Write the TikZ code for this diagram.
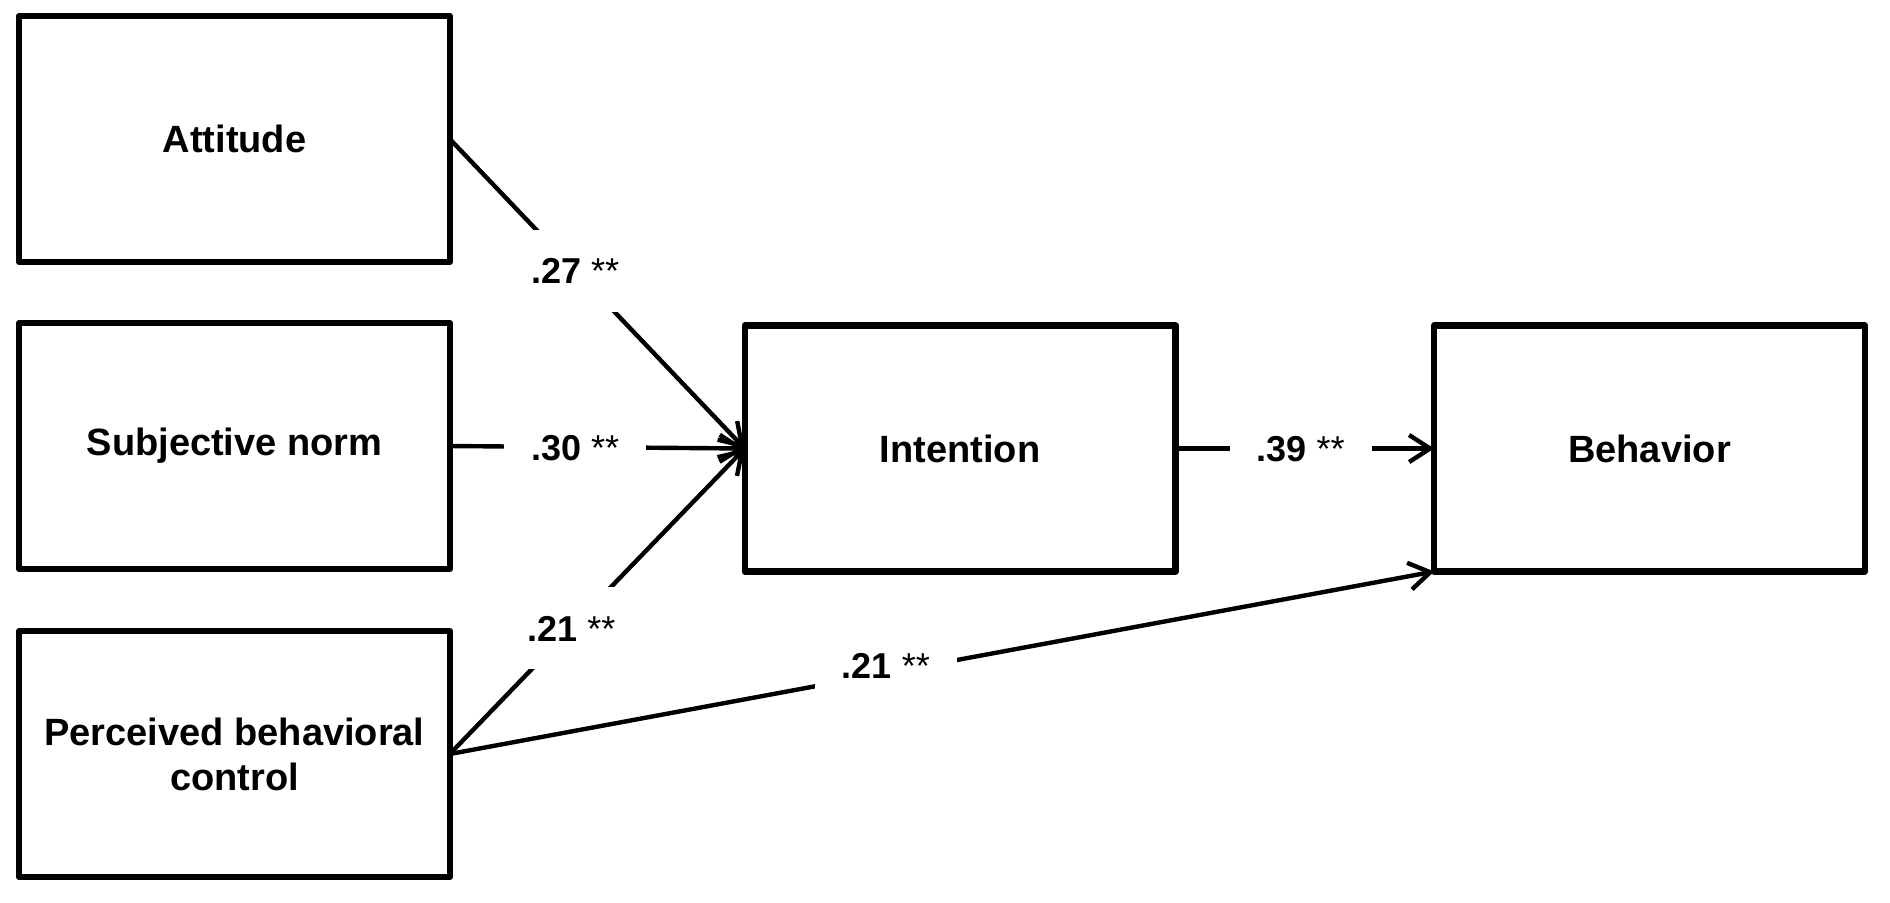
\documentclass[tikz,border=0pt]{standalone}
\usepackage{fontspec}
\setmainfont{Liberation Sans}
\usetikzlibrary{arrows.meta}
\begin{document}
\begin{tikzpicture}[x=0.5pt,y=-0.5pt,
  box/.style={draw, line width=3.2pt, line join=round, minimum width=215.3pt, minimum height=123pt, align=center, font=\fontsize{19}{22.5}\selectfont\bfseries, inner sep=0pt, outer sep=0pt},
  conn/.style={line width=2.2pt, -{Straight Barb[length=10.5pt,width=13.5pt,line width=2.2pt]}},
  lbl/.style={fill=white, inner xsep=13.5pt, inner ysep=14pt, text height=13pt, text depth=0pt, font=\fontsize{18}{22}\selectfont\bfseries}]
\useasboundingbox (0,0) rectangle (1890,902);
\node[box] (att) at (234.5,139) {Attitude};
\node[box] (sub) at (234.5,446) {Subjective norm};
\node[box] (pbc) at (234.5,754) {Perceived behavioral\\control};
\node[box] (int) at (960,448.5) {Intention};
\node[box] (beh) at (1649.5,448.5) {Behavior};
\draw[conn] (att.east) -- node[lbl, pos=0.425] {.27 \textmd{**}} (int.west);
\draw[conn] (sub.east) -- node[lbl, pos=0.425] {.30 \textmd{**}} (int.west);
\draw[conn] (pbc.east) -- node[lbl, pos=0.412] {.21 \textmd{**}} (int.west);
\draw[conn] (pbc.east) -- node[lbl, pos=0.443, yshift=4pt] {.21 \textmd{**}} (beh.south west);
\draw[conn] (int.east) -- node[lbl, pos=0.484] {.39 \textmd{**}} (beh.west);
\end{tikzpicture}
\end{document}
